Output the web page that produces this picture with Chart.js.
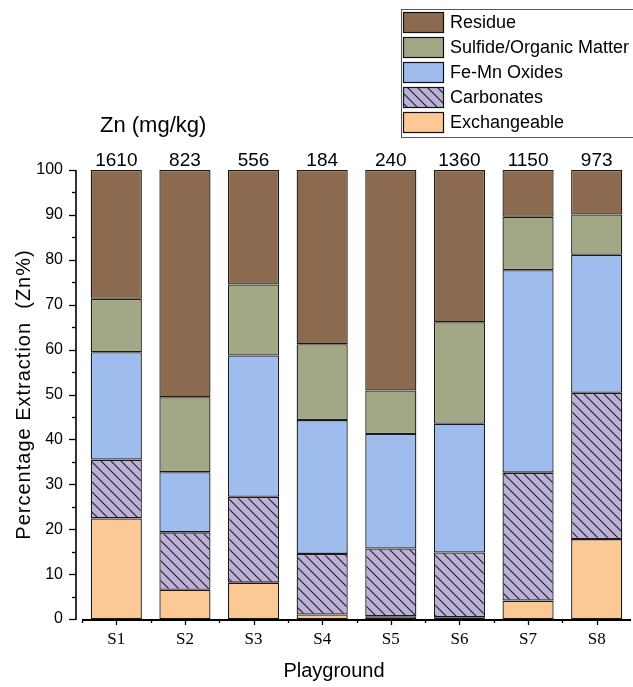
<!DOCTYPE html>
<html>
<head>
<meta charset="utf-8">
<script src="https://cdn.jsdelivr.net/npm/chart.js@4.4.1/dist/chart.umd.min.js"></script>
<style>
  html, body { margin: 0; padding: 0; background: #fff; }
  #wrap { width: 633px; height: 687px; position: relative; }
</style>
</head>
<body>
<div id="wrap"><canvas id="fracChart"></canvas></div>
<script>
// Data
const sites = ['S1', 'S2', 'S3', 'S4', 'S5', 'S6', 'S7', 'S8'];
const totalZn = ['1610', '823', '556', '184', '240', '1360', '1150', '973'];
const exchangeable = [22.4, 6.5, 8.1, 1.0, 0.6, 0.4, 4.1, 17.8];
const carbonates = [13.1, 12.8, 19.1, 13.5, 15.1, 14.4, 28.5, 32.6];
const feMnOxides = [23.9, 13.4, 31.5, 29.8, 25.5, 28.7, 45.1, 30.7];
const sulfideOM = [11.9, 16.7, 15.8, 16.9, 9.7, 22.6, 11.9, 9.0];
const residue = [28.7, 50.6, 25.5, 38.8, 49.1, 33.9, 10.4, 9.9];
const yTicks = [0, 10, 20, 30, 40, 50, 60, 70, 80, 90, 100];

const cExch = '#fcc896';
const cCarb = '#bdb0d8';
const cFeMn = '#9ebcee';
const cSulf = '#a2a785';
const cRes = '#8c6a4f';

// diagonal hatch for carbonates
function hatch(bg) {
    const c = document.createElement('canvas');
    c.width = 10; c.height = 10;
    const g = c.getContext('2d');
    g.fillStyle = bg;
    g.fillRect(0, 0, 10, 10);
    g.strokeStyle = '#1e1e1e';
    g.lineWidth = 1.1;
    g.beginPath();
    g.moveTo(-1, -1); g.lineTo(11, 11);
    g.moveTo(-1, 9); g.lineTo(1, 11);
    g.moveTo(9, -1); g.lineTo(11, 1);
    g.stroke();
    return g.createPattern(c, 'repeat');
}
const carbFill = hatch(cCarb);

const fontSans = 'Arial, "Liberation Sans", sans-serif';

const decorPlugin = {
    id: 'decor',
    afterDraw(chart) {
        const ctx = chart.ctx;
        const x = chart.scales.x, y = chart.scales.y;
        const top = chart.chartArea.top, bottom = chart.chartArea.bottom;
        const axisX = chart.chartArea.left - 6;
        ctx.save();
        ctx.strokeStyle = '#000';

        // y axis line and ticks
        ctx.lineWidth = 1.6;
        ctx.beginPath();
        ctx.moveTo(axisX, y.getPixelForValue(100));
        ctx.lineTo(axisX, y.getPixelForValue(0) + 1);
        ctx.stroke();
        ctx.lineWidth = 1.3;
        yTicks.forEach(v => {
            const py = Math.round(y.getPixelForValue(v)) + 0.5;
            ctx.beginPath(); ctx.moveTo(axisX - 7, py); ctx.lineTo(axisX, py); ctx.stroke();
            if (v < 100) {
                const pm = Math.round(y.getPixelForValue(v + 5)) + 0.5;
                ctx.beginPath(); ctx.moveTo(axisX - 4, pm); ctx.lineTo(axisX, pm); ctx.stroke();
            }
        });

        // x axis line and ticks
        ctx.lineWidth = 2;
        ctx.beginPath();
        ctx.moveTo(chart.chartArea.left, bottom + 1);
        ctx.lineTo(chart.chartArea.right, bottom + 1);
        ctx.stroke();
        ctx.lineWidth = 1.3;
        sites.forEach((s, i) => {
            const px = Math.round(x.getPixelForValue(i)) + 0.5;
            ctx.beginPath(); ctx.moveTo(px, bottom + 1); ctx.lineTo(px, bottom + 6); ctx.stroke();
            const pb = Math.round(x.getPixelForValue(i - 0.5)) + 0.5;
            ctx.beginPath(); ctx.moveTo(pb, bottom + 1); ctx.lineTo(pb, bottom + 4); ctx.stroke();
        });

        // totals above the bars
        ctx.fillStyle = '#000';
        ctx.font = '19px ' + fontSans;
        ctx.textAlign = 'center';
        ctx.textBaseline = 'alphabetic';
        totalZn.forEach((t, i) => {
            ctx.fillText(t, x.getPixelForValue(i), top - 4);
        });
        ctx.font = '22px ' + fontSans;
        ctx.textAlign = 'left';
        ctx.fillText('Zn (mg/kg)', 100, 132);

        // x title
        ctx.font = '20px ' + fontSans;
        ctx.textAlign = 'center';
        ctx.textBaseline = 'alphabetic';
        ctx.fillText('Playground', 334, 677);

        // y title
        ctx.save();
        ctx.translate(24, (top + bottom) / 2);
        ctx.rotate(-Math.PI / 2);
        ctx.font = '20px ' + fontSans;
        ctx.textAlign = 'center';
        ctx.textBaseline = 'middle';
        ctx.letterSpacing = '1px';
        ctx.fillText('Percentage Extraction  (Zn%)', 0, 0);
        ctx.restore();

        // legend (top item first)
        const items = chart.data.datasets.slice().reverse();
        ctx.fillStyle = '#fff';
        ctx.fillRect(401, 9, 240, 128);
        ctx.strokeStyle = '#555';
        ctx.lineWidth = 1;
        ctx.strokeRect(401.5, 9.5, 240, 128);
        ctx.font = '18px ' + fontSans;
        ctx.textBaseline = 'middle';
        items.forEach((ds, k) => {
            const ry = 12 + k * 25;
            ctx.fillStyle = ds.backgroundColor;
            ctx.fillRect(403, ry, 41, 21);
            ctx.strokeStyle = '#111';
            ctx.lineWidth = 1.2;
            ctx.strokeRect(403.5, ry + 0.5, 40, 20);
            ctx.fillStyle = '#000';
            ctx.textAlign = 'left';
            ctx.fillText(ds.label, 450, ry + 11);
        });
        ctx.restore();
    }
};

const barStyle = { borderColor: '#1a1a1a', borderWidth: 1.3, borderSkipped: false, barPercentage: 0.745, categoryPercentage: 1 };

new Chart(document.getElementById('fracChart'), {
    type: 'bar',
    data: {
        labels: sites,
        datasets: [
            { label: 'Exchangeable', data: exchangeable, backgroundColor: cExch, ...barStyle },
            { label: 'Carbonates', data: carbonates, backgroundColor: carbFill, ...barStyle },
            { label: 'Fe-Mn Oxides', data: feMnOxides, backgroundColor: cFeMn, ...barStyle },
            { label: 'Sulfide/Organic Matter', data: sulfideOM, backgroundColor: cSulf, ...barStyle },
            { label: 'Residue', data: residue, backgroundColor: cRes, ...barStyle }
        ]
    },
    options: {
        responsive: true,
        maintainAspectRatio: false,
        animation: false,
        devicePixelRatio: 1,
        layout: { padding: { top: 170, right: 2, left: 0, bottom: 0 } },
        plugins: {
            legend: { display: false },
            tooltip: { enabled: false }
        },
        scales: {
            x: {
                stacked: true,
                grid: { display: false, drawTicks: false },
                border: { display: false },
                ticks: {
                    color: '#000',
                    padding: 10,
                    font: { family: '"Times New Roman", "Liberation Serif", serif', size: 17 }
                },
                afterFit: s => { s.height = 68; }
            },
            y: {
                stacked: true,
                min: 0,
                max: 100,
                grid: { display: false, drawTicks: false },
                border: { display: false },
                afterBuildTicks: s => { s.ticks = yTicks.map(v => ({ value: v })); },
                ticks: {
                    color: '#000',
                    padding: 19,
                    font: { family: fontSans, size: 16 }
                },
                afterFit: s => { s.width = 82; }
            }
        }
    },
    plugins: [decorPlugin]
});
</script>
</body>
</html>
